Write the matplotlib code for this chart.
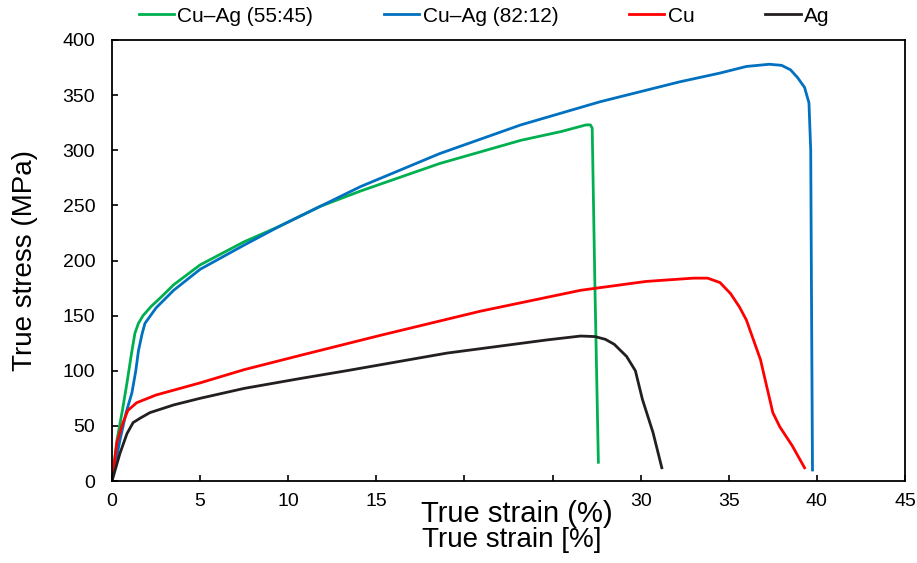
import matplotlib
matplotlib.use("Agg")
import matplotlib.pyplot as plt

plt.rcParams['font.family'] = ['Liberation Sans', 'DejaVu Sans']

# Cu-Ag (55:45)
green_x = [0, 0.28, 0.6, 0.85, 1.1, 1.3, 1.5, 1.76, 2.2, 2.8, 3.5, 5, 7.5, 9.5, 11.8, 14.1,
           18.6, 23.2, 25.5, 26.9, 27.15, 27.25, 27.4, 27.6]
green_y = [0, 37, 65, 89, 115, 134, 143, 150, 158, 167, 178, 196, 217, 231, 249, 263,
           288, 309, 317, 323, 323, 320, 180, 17]

# Cu-Ag (82:12)
blue_x = [0, 0.45, 0.8, 1.13, 1.35, 1.5, 1.7, 1.87, 2.5, 3.5, 5, 7.5, 9.5, 11.8, 14.1,
          18.6, 23.2, 27.7, 32.2, 34.5, 36.0, 37.3, 38.0, 38.5, 38.9, 39.3, 39.55, 39.65,
          39.7, 39.75]
blue_y = [0, 37, 62, 80, 100, 118, 133, 143, 157, 173, 192, 214, 231, 249, 267,
          297, 323, 344, 362, 370, 376, 378, 377, 373, 366, 357, 343, 300, 150, 10]

# Cu
red_x = [0, 0.28, 0.6, 0.9, 1.4, 2.5, 5, 7.5, 10.7, 15.2, 20.9, 26.6, 30.3, 33.0, 33.8,
         34.5, 35.1, 35.6, 36.0, 36.8, 37.5, 37.9, 38.6, 39.3]
red_y = [0, 35, 52, 64, 71, 78, 89, 101, 114, 132, 154, 173, 181, 184, 184,
         180, 170, 158, 146, 110, 62, 49, 32, 12]

# Ag
black_x = [0, 0.45, 0.85, 1.2, 1.6, 2.15, 3.5, 5, 7.5, 10.7, 13.3, 19.0, 24.7, 26.6, 27.4,
           28.0, 28.5, 29.2, 29.7, 30.1, 30.7, 31.2]
black_y = [0, 25, 43, 53, 57, 62, 69, 75, 84, 93, 100, 116, 128, 131.5, 131,
           128.5, 124, 113, 100, 74, 44, 12]

labels = ['Cu–Ag (55:45)', 'Cu–Ag (82:12)', 'Cu', 'Ag']
colors = ['#00B050', '#0070C0', '#FF0000', '#231F20']
x_ticks = [0, 5, 10, 15, 20, 25, 30, 35, 40, 45]
x_tick_labels = ['0', '5', '10', '15', '', '', '30', '35', '40', '45']
y_ticks = [0, 50, 100, 150, 200, 250, 300, 350, 400]

fig = plt.figure(figsize=(9.17, 5.63), dpi=100)
ax = fig.add_axes([112/917, 1-481/563, (905-112)/917, (481-40)/563])

series = [(green_x, green_y), (blue_x, blue_y), (red_x, red_y), (black_x, black_y)]
handles = []
for (xs, ys), lab, c in zip(series, labels, colors):
    h, = ax.plot(xs, ys, color=c, lw=2.0, label=lab, solid_joinstyle='round')
    handles.append(h)

ax.set_xlim(0, 45)
ax.set_ylim(0, 400)
ax.set_xticks(x_ticks)
ax.set_xticklabels(x_tick_labels)
ax.set_yticks(y_ticks)
ax.tick_params(direction='in', length=4, width=1.2, labelsize=14)
ax.tick_params(axis='x', pad=9)
ax.tick_params(axis='y', pad=12)
for s in ax.spines.values():
    s.set_linewidth(1.3)
    s.set_color('black')

ax.set_ylabel('True stress (MPa)', fontsize=20)
ax.yaxis.set_label_coords((38 - 112) / 793, 0.5)

fig.text(517/917, 1-514/563, 'True strain (%)', fontsize=21, ha='center', va='center')
fig.text(512/917, 1-540/563, 'True strain [%]', fontsize=20, ha='center', va='center')

fig.legend(handles=handles, labels=labels, loc='center', bbox_to_anchor=(484/917, 1-16/563),
           ncol=4, frameon=False, fontsize=15, handlelength=1.7, handletextpad=0.15,
           columnspacing=3.4)

fig.savefig('out.png', dpi=100)
